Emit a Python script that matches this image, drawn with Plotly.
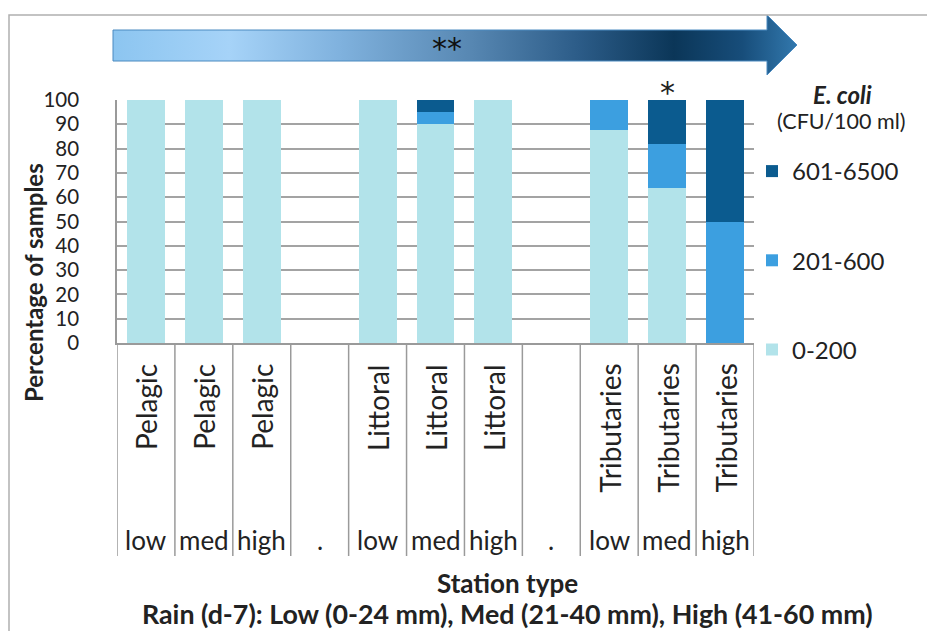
import plotly.graph_objects as go

# ---- data ----
stations = ["Pelagic", "Pelagic", "Pelagic", "", "Littoral", "Littoral", "Littoral", "",
            "Tributaries", "Tributaries", "Tributaries"]
rain = ["low", "med", "high", ".", "low", "med", "high", ".", "low", "med", "high"]
ecoli_low = [100, 100, 100, 0, 100, 90, 100, 0, 87.5, 63.6, 0]      # 0-200
ecoli_mid = [0, 0, 0, 0, 0, 5, 0, 0, 12.5, 18.2, 50]                # 201-600
ecoli_high = [0, 0, 0, 0, 0, 5, 0, 0, 0, 18.2, 50]                  # 601-6500
series_names = ["0-200", "201-600", "601-6500"]
series_colors = ["#b2e3ea", "#3c9fe0", "#0b5b8f"]
legend_ranks = [3, 2, 1]
y_ticks = [0, 10, 20, 30, 40, 50, 60, 70, 80, 90, 100]

# page has an 8px body margin: figure is sized so that figure + margin = 935x639
OFF = 8
W, H = 935 - 2 * OFF, 639 - 2 * OFF
FONT = "Lato"
TXT = "#222222"

def py(pix):
    return (H - (pix - OFF)) / H

def px(pix):
    return (pix - OFF) / W

x_idx = list(range(len(stations)))

fig = go.Figure()
for name, vals, col, rk in zip(series_names, [ecoli_low, ecoli_mid, ecoli_high], series_colors, legend_ranks):
    fig.add_trace(go.Bar(x=x_idx, y=vals, name=name, marker=dict(color=col, line=dict(width=0)),
                         width=0.655, legendgroup=name, legendrank=rk, xaxis="x", yaxis="y"))

# arrow decoration on an overlay pixel-coordinate subplot
arrow_x = [113, 767, 767, 797, 767, 767, 113, 113]
arrow_y = [30, 30, 15, 45, 75, 61, 61, 30]
fig.add_trace(go.Scatter(x=arrow_x, y=arrow_y, mode="lines", fill="toself",
                         fillgradient=dict(type="horizontal",
                                           colorscale=[[0, "#8cc5f0"], [0.17, "#a6d3f8"],
                                                       [0.33, "#80b2de"], [0.52, "#5888b3"],
                                                       [0.68, "#2c5c88"], [0.82, "#0b3658"],
                                                       [0.92, "#174d7a"], [1, "#3278ad"]]),
                         line=dict(color="#4a8ac0", width=1), showlegend=False,
                         hoverinfo="skip", xaxis="x2", yaxis="y2"))

fig.update_layout(
    width=W, height=H, autosize=False,
    margin=dict(l=0, r=0, t=0, b=0, pad=0),
    paper_bgcolor="white", plot_bgcolor="rgba(0,0,0,0)",
    barmode="stack",
    font=dict(family=FONT, color=TXT),
    xaxis=dict(domain=[px(117), px(754)], range=[-0.5, 10.5], showticklabels=False,
               showgrid=False, zeroline=False, showline=True, linecolor="#9a9a9a",
               linewidth=1.5, ticks="", fixedrange=True, automargin=False),
    yaxis=dict(domain=[py(343), py(100)], range=[0, 100], tickvals=y_ticks,
               showgrid=True, gridcolor="#a3a3a3", gridwidth=1.5, zeroline=False,
               showline=True, linecolor="#9a9a9a", linewidth=1.5, ticks="",
               tickfont=dict(size=20.5, color=TXT, family=FONT), ticklabelstandoff=32,
               automargin=False),
    xaxis2=dict(domain=[0, 1], range=[OFF, OFF + W], visible=False, anchor="y2", automargin=False),
    yaxis2=dict(domain=[0, 1], range=[OFF + H, OFF], visible=False, anchor="x2", automargin=False),
    legend=dict(x=px(752), y=py(149), xanchor="left", yanchor="top",
                traceorder="grouped", tracegroupgap=55,
                font=dict(size=24, family=FONT, color=TXT),
                itemwidth=30, bgcolor="rgba(0,0,0,0)"),
    showlegend=True,
)

shapes = []
# outer frame
shapes.append(dict(type="rect", xref="paper", yref="paper", x0=px(9), x1=1.2, y0=-0.2, y1=py(15),
                   line=dict(color="#b0b0b0", width=1.5)))
# category table dividers
for k in range(len(stations) + 1):
    shapes.append(dict(type="line", xref="x", yref="paper", x0=k - 0.5, x1=k - 0.5,
                       y0=py(556), y1=py(343), line=dict(color="#9a9a9a", width=1.5)))
fig.update_layout(shapes=shapes)

def ann(x, y, text, size, xref="paper", angle=0, family=FONT, color=TXT, yanchor="middle"):
    return dict(x=x, y=y, xref=xref, yref="paper", text=text, textangle=angle, showarrow=False,
                xanchor="center", yanchor=yanchor, font=dict(size=size, family=family, color=color))

annots = []
for i, (s, r) in enumerate(zip(stations, rain)):
    if s:
        annots.append(ann(i, py(362), s, 28, xref="x", angle=-90, yanchor="top"))
    annots.append(ann(i, py(540), r, 26, xref="x"))
annots.append(ann(px(33), py(283), "<b>Percentage of samples</b>", 24, angle=-90))
annots.append(ann(px(507), py(583), "<b>Station type</b>", 26))
annots.append(ann(px(507), py(614), "<b>Rain (d-7): Low (0-24 mm), Med (21-40 mm), High (41-60 mm)</b>", 26.8))
annots.append(ann(px(842), py(95), "<b><i>E. coli</i></b>", 24))
annots.append(ann(px(841), py(121), "(CFU/100 ml)", 21.5))
annots.append(ann(9, py(92), "*", 30, xref="x", family="DejaVu Sans"))
annots.append(ann(px(447), py(49), "**", 30, family="DejaVu Sans", color="#111111"))
fig.update_layout(annotations=annots)

fig.write_html("out.html")
